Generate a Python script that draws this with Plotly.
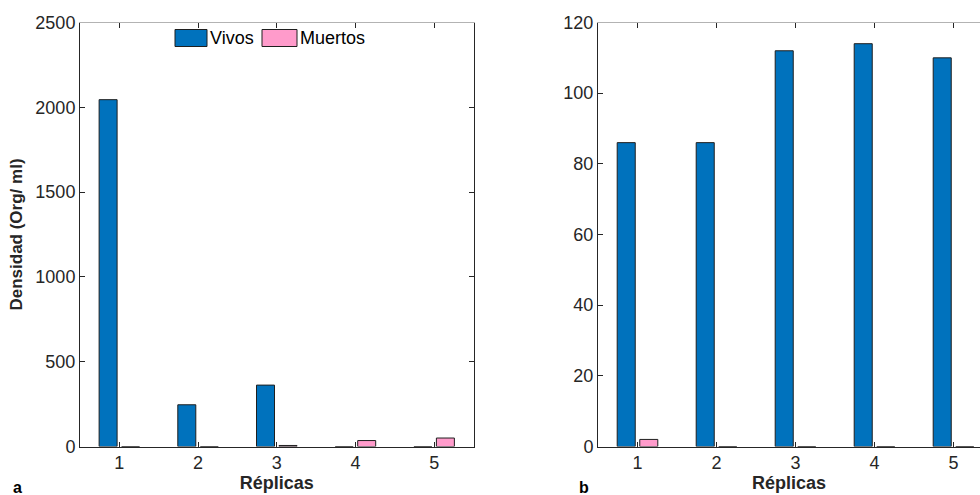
import plotly.graph_objects as go

# ---- data ----
replicas = [1, 2, 3, 4, 5]
tick_labels = ["1", "2", "3", "4", "5"]
vivos_a = [2045, 246, 362, 0, 0]
muertos_a = [0, 0, 6, 35, 50]
vivos_b = [86, 86, 112, 114, 110]
muertos_b = [2, 0, 0, 0, 0]
series_names = ["Vivos", "Muertos"]
panel_labels = ["a", "b"]
x_title = "Réplicas"
y_title = "Densidad (Org/ ml)"
y_ticks_a = [0, 500, 1000, 1500, 2000, 2500]
y_ticks_b = [0, 20, 40, 60, 80, 100, 120]

C_VIVOS = "#0072BD"
C_MUERTOS = "#FF9BCB"
EDGE = "#1f1f1f"
AX = "#262626"
FONT = "Liberation Sans, Arial, sans-serif"
W, H = 980, 495

def px(x):
    return x / W

def py(y):
    return 1 - y / H

fig = go.Figure()
for xa, ya, vals_v, vals_m in [("x", "y", vivos_a, muertos_a), ("x2", "y2", vivos_b, muertos_b)]:
    fig.add_trace(go.Bar(x=replicas, y=vals_v, name=series_names[0], xaxis=xa, yaxis=ya,
                         marker=dict(color=C_VIVOS, line=dict(color=EDGE, width=1)),
                         showlegend=False))
    fig.add_trace(go.Bar(x=replicas, y=vals_m, name=series_names[1], xaxis=xa, yaxis=ya,
                         marker=dict(color=C_MUERTOS, line=dict(color=EDGE, width=1)),
                         showlegend=False))

# dummy traces to attach overlay (box) axes
fig.add_trace(go.Scatter(x=[None], y=[None], xaxis="x3", yaxis="y", showlegend=False, hoverinfo="skip"))
fig.add_trace(go.Scatter(x=[None], y=[None], xaxis="x", yaxis="y3", showlegend=False, hoverinfo="skip"))
fig.add_trace(go.Scatter(x=[None], y=[None], xaxis="x4", yaxis="y2", showlegend=False, hoverinfo="skip"))

dom_y = [py(446.5), py(22.5)]
dom_x1 = [px(80), px(473.5)]
dom_x2 = [px(598), 1.0]
range_x1 = [0.5, 5.5]
range_x2 = [0.5, 0.5 + (W - 598) / 79.0]

tickfont = dict(family=FONT, size=18, color=AX)
titlefont = dict(family=FONT, size=18, color=AX, weight="bold")

common_x = dict(tickmode="array", tickvals=replicas, ticktext=tick_labels, ticks="inside",
                ticklen=5, tickcolor=AX, showline=True, linecolor=AX, linewidth=1,
                showgrid=False, zeroline=False, tickfont=tickfont, fixedrange=True,
                automargin=False)
common_y = dict(ticks="inside", ticklen=5, tickcolor=AX, showline=True, linecolor=AX,
                linewidth=1, showgrid=False, zeroline=False, tickfont=tickfont, fixedrange=True,
                automargin=False)
box = dict(ticks="inside", ticklen=5, tickcolor=AX, showticklabels=False, showgrid=False,
           zeroline=False, fixedrange=True, automargin=False, showline=True)

fig.update_layout(
    width=W, height=H,
    margin=dict(l=0, r=0, t=0, b=0, autoexpand=False),
    paper_bgcolor="white", plot_bgcolor="white",
    barmode="group", bargap=0.4286, bargroupgap=0.2,
    showlegend=False,
    font=dict(family=FONT, color=AX),
    xaxis=dict(domain=dom_x1, range=range_x1, anchor="y",
               title=dict(text=x_title, font=titlefont, standoff=4), **common_x),
    yaxis=dict(domain=dom_y, range=[0, 2500], anchor="x", tickvals=y_ticks_a,
               title=dict(text=y_title, font=dict(family=FONT, size=17, color=AX, weight="bold"),
                          standoff=8), **common_y),
    xaxis2=dict(domain=dom_x2, range=range_x2, anchor="y2",
                title=dict(text=x_title, font=titlefont, standoff=4), **common_x),
    yaxis2=dict(domain=dom_y, range=[0, 120], anchor="x2", tickvals=y_ticks_b, **common_y),
    xaxis3=dict(overlaying="x", side="top", anchor="y", range=range_x1, tickvals=replicas,
                linecolor="#b3b3b3", **box),
    xaxis4=dict(overlaying="x2", side="top", anchor="y2", range=range_x2, tickvals=replicas,
                linecolor="#b3b3b3", **box),
    yaxis3=dict(overlaying="y", side="right", anchor="x", range=[0, 2500], tickvals=y_ticks_a,
                linecolor=AX, **box),
)

# legend (drawn manually, MATLAB style without box)
legend_items = [(series_names[0], C_VIVOS, 175, 207), (series_names[1], C_MUERTOS, 262, 297)]
for name, col, x0, x1 in legend_items:
    fig.add_shape(type="rect", xref="paper", yref="paper",
                  x0=px(x0), x1=px(x1), y0=py(46.5), y1=py(29.5),
                  fillcolor=col, line=dict(color=EDGE, width=1))
    fig.add_annotation(x=px(x1 + 1), y=py(38), xref="paper", yref="paper", text=name,
                       showarrow=False, xanchor="left", yanchor="middle",
                       font=dict(family=FONT, size=18, color="black"))

# panel letters
for lab, xx in zip(panel_labels, [17, 584]):
    fig.add_annotation(x=px(xx), y=py(487), xref="paper", yref="paper", text=lab,
                       showarrow=False, xanchor="center", yanchor="middle",
                       font=dict(family=FONT, size=16, color="black", weight="bold"))

fig.write_html("out.html", config={"displayModeBar": False},
               post_script="document.body.style.margin='0';document.body.style.overflow='hidden';")
